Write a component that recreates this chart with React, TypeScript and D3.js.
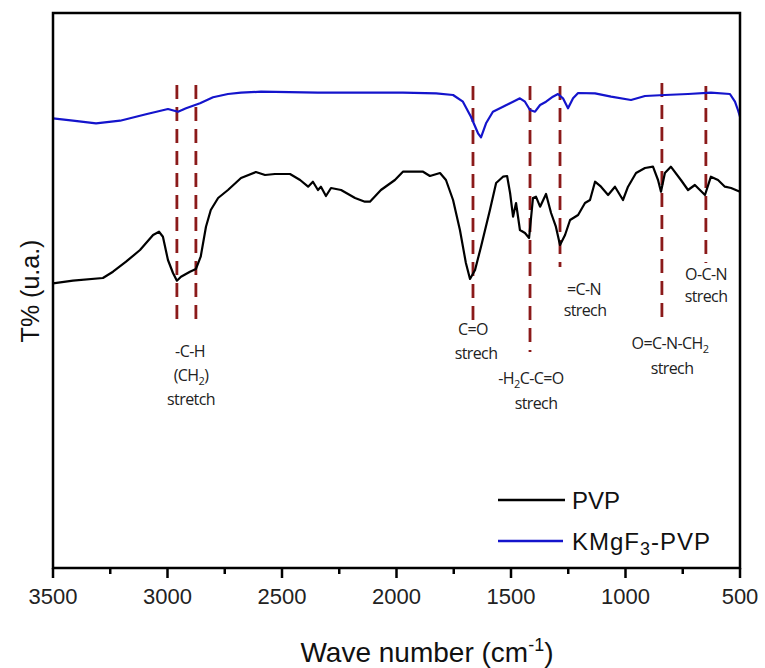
import React from "react";
import * as d3 from "d3";

// Wavenumber (cm-1) and transmittance (arbitrary units)
const pvpWave = [3500,3413,3282,3238,3181,3120,3063,3037,3020,2998,2976,2959,2941,2902,2876,2855,2832,2811,2779,2736,2679,2614,2574,2531,2465,2421,2386,2365,2343,2330,2308,2286,2242,2181,2138,2116,2068,2007,1972,1884,1854,1810,1784,1753,1723,1697,1679,1657,1631,1592,1565,1535,1517,1504,1491,1478,1461,1439,1421,1404,1391,1373,1347,1325,1304,1286,1264,1242,1207,1177,1155,1133,1107,1076,1046,1011,989,954,915,880,858,845,828,802,758,727,697,653,627,596,566,539,500];
const pvpT = [284.7,287.3,290,296.3,306.3,318,333,336.3,331.3,308,295,287.3,291.3,296.3,299,311.3,341.3,358,370,378,390,396,393,394,394,388,381.3,386.3,378,381.3,372,380,378,370,366.3,366.3,378,388,396.3,396.3,392,395,388,368,338,305,289,298,321.3,358,385,391.3,392,375,351.3,365,338,335,330,370,371.3,361.3,374,355,341.3,323,333,348,353,365,368,386.3,381.3,373,381.3,368,381.3,395,400,401.3,388,376.3,395,401.3,388,378,383,373,391.3,388,381.3,380,376.3];

const kmgWave = [3500,3413,3312,3207,3094,2998,2954,2919,2858,2801,2736,2679,2592,2343,1972,1827,1753,1710,1675,1644,1631,1609,1579,1535,1491,1461,1439,1417,1395,1373,1347,1317,1295,1273,1251,1229,1207,1133,1063,976,915,828,727,627,544,522,509,500];
const kmgT = [449.7,447.3,444.7,447.3,453.7,459,456.3,459.7,464.7,470.7,474,475.3,476.3,475.3,475.3,474.7,473,466.3,451.3,434.7,430.7,444.7,456.3,461.3,466.3,469.7,466.3,458,456.3,463,466.3,471.3,474,469.7,459.7,469.7,475,474.7,471.3,468,472,473,474,475.3,474,466.3,458,451.3];

const xTicks = [3500, 3000, 2500, 2000, 1500, 1000, 500];
const xMinorTicks = [3250, 2750, 2250, 1750, 1250, 750];

// Band markers: wavenumber, top/bottom of dashed line (in T units)
const bandWave = [2959, 2876, 1666, 1417, 1286, 841, 649];
const bandTop = [483, 483, 482, 482, 482, 485, 482];
const bandBottom = [245, 245, 248, 216, 301, 248, 305];

export default function App() {
  const W = 765, H = 668;
  const left = 53, right = 740, top = 13, bottom = 568;
  const x = d3.scaleLinear().domain([3500, 500]).range([left, right]);
  const y = d3.scaleLinear().domain([0, 555]).range([bottom, top]);

  const line = d3.line<[number, number]>().x(d => x(d[0])).y(d => y(d[1]));
  const pvpPath = line(pvpWave.map((w, i) => [w, pvpT[i]]) as [number, number][]) || "";
  const kmgPath = line(kmgWave.map((w, i) => [w, kmgT[i]]) as [number, number][]) || "";

  const labelFont = "'Open Sans', 'Noto Sans', sans-serif";
  const lblStyle: React.CSSProperties = { fontFamily: labelFont, fontSize: 16, fill: "#222", letterSpacing: -0.6 };
  const sub = (t: string) => (
    <tspan dy={4} fontSize={11}>{t}</tspan>
  );
  const unsub = (t: string) => <tspan dy={-4}>{t}</tspan>;

  return (
    <svg width={W} height={H} style={{ position: "absolute", left: 0, top: 0, background: "#fff" }}>
      <rect x={0} y={0} width={W} height={H} fill="#fff" />
      {/* dashed band lines */}
      {bandWave.map((w, i) => (
        <line key={i} x1={x(w)} x2={x(w)} y1={y(bandTop[i])} y2={y(bandBottom[i])}
          stroke="#8B1A1A" strokeWidth={2.8} strokeDasharray="14,8" />
      ))}
      {/* curves */}
      <path d={kmgPath} fill="none" stroke="#1414CC" strokeWidth={2.2} strokeLinejoin="round" />
      <path d={pvpPath} fill="none" stroke="#000" strokeWidth={2.2} strokeLinejoin="round" />
      {/* frame */}
      <rect x={left} y={top} width={right - left} height={bottom - top} fill="none" stroke="#000" strokeWidth={2.5} />
      {/* x ticks */}
      {xTicks.map(t => (
        <line key={"M" + t} x1={x(t)} x2={x(t)} y1={bottom} y2={bottom + 10} stroke="#000" strokeWidth={2.5} />
      ))}
      {xMinorTicks.map(t => (
        <line key={"m" + t} x1={x(t)} x2={x(t)} y1={bottom} y2={bottom + 6} stroke="#000" strokeWidth={2.5} />
      ))}
      {xTicks.map(t => (
        <text key={"l" + t} x={x(t)} y={604} textAnchor="middle"
          style={{ fontFamily: "Arial, 'Liberation Sans', sans-serif", fontSize: 22, fill: "#222" }}>{t}</text>
      ))}
      {/* axis titles */}
      <text x={427} y={662} textAnchor="middle"
        style={{ fontFamily: "Arial, 'Liberation Sans', sans-serif", fontSize: 28, fill: "#111" }}>
        Wave number (cm<tspan dy={-11} fontSize={18}>-1</tspan><tspan dy={11}>)</tspan>
      </text>
      <text transform="translate(39,291) rotate(-90)" textAnchor="middle"
        style={{ fontFamily: "Arial, 'Liberation Sans', sans-serif", fontSize: 25, fill: "#111" }}>
        T% (u.a.)
      </text>
      {/* band labels */}
      <g style={lblStyle} textAnchor="middle">
        <text x={190} y={357}>-C-H</text>
        <text x={191} y={381}>({"CH"}{sub("2")}{unsub(")")}</text>
        <text x={191} y={405}>stretch</text>

        <text x={473} y={335}>C=O</text>
        <text x={476} y={359}>strech</text>

        <text x={531} y={384}>-H{sub("2")}{unsub("C-C=O")}</text>
        <text x={536} y={409}>strech</text>

        <text x={584} y={295}>=C-N</text>
        <text x={585} y={316}>strech</text>

        <text x={670} y={349}>O=C-N-CH{sub("2")}</text>
        <text x={672} y={374}>strech</text>

        <text x={706} y={280}>O-C-N</text>
        <text x={706} y={302}>strech</text>
      </g>
      {/* legend */}
      <line x1={498} x2={565} y1={500} y2={500} stroke="#000" strokeWidth={2.5} />
      <text x={572} y={509} style={{ fontFamily: "Arial, 'Liberation Sans', sans-serif", fontSize: 24, fill: "#111" }}>PVP</text>
      <line x1={498} x2={563} y1={541} y2={541} stroke="#1414CC" strokeWidth={2.5} />
      <text x={572} y={550} style={{ fontFamily: "Arial, 'Liberation Sans', sans-serif", fontSize: 24, fill: "#111", letterSpacing: 1 }}>
        KMgF<tspan dy={5} fontSize={18}>3</tspan><tspan dy={-5}>-PVP</tspan>
      </text>
    </svg>
  );
}
